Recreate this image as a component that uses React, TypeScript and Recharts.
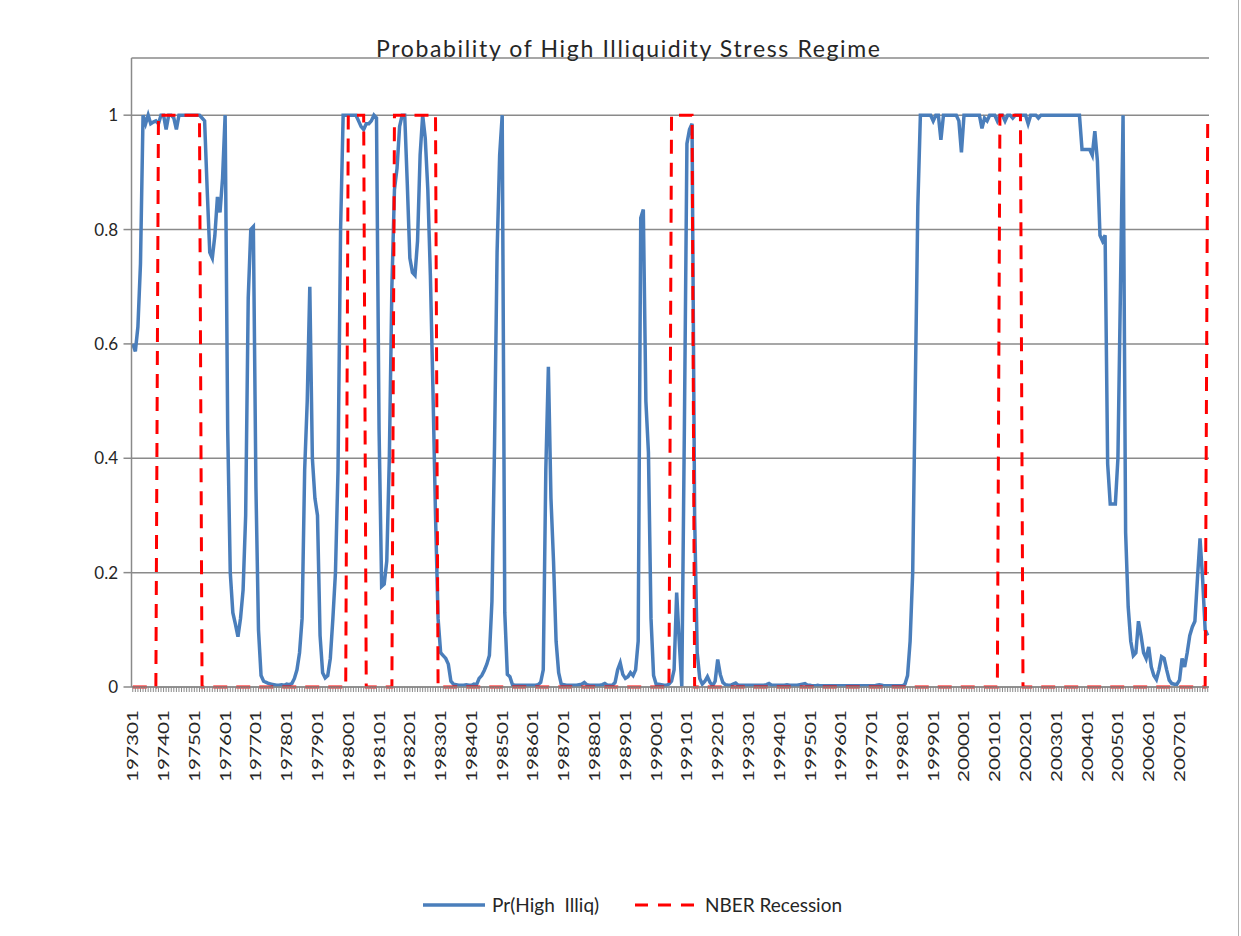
import React from 'react';
import { LineChart, Line, XAxis, YAxis, CartesianGrid } from 'recharts';

// monthly categories 197301 .. 200712
const months: string[] = [];
for (let y = 1973; y <= 2007; y++) {
  for (let m = 1; m <= 12; m++) months.push(`${y}${m < 10 ? '0' : ''}${m}`);
}

// Pr(High Illiq), one row per year
const highIlliq: number[] = [
  0.6, 0.587, 0.63, 0.74, 1.0, 0.985, 1.0, 0.985, 0.988, 0.99, 0.985, 1.0, // 1973
  1.0, 0.975, 1.0, 1.0, 0.995, 0.975, 1.0, 1.0, 1.0, 1.0, 1.0, 1.0, // 1974
  1.0, 1.0, 1.0, 0.995, 0.99, 0.87, 0.76, 0.75, 0.79, 0.857, 0.83, 0.89, // 1975
  1.0, 0.45, 0.2, 0.13, 0.11, 0.088, 0.12, 0.17, 0.3, 0.68, 0.8, 0.805, // 1976
  0.35, 0.1, 0.02, 0.01, 0.008, 0.006, 0.005, 0.004, 0.003, 0.003, 0.004, 0.003, // 1977
  0.005, 0.004, 0.006, 0.015, 0.03, 0.06, 0.12, 0.38, 0.5, 0.7, 0.4, 0.33, // 1978
  0.3, 0.09, 0.025, 0.016, 0.02, 0.05, 0.12, 0.2, 0.38, 0.8, 1.0, 1.0, // 1979
  1.0, 1.0, 1.0, 1.0, 0.99, 0.98, 0.975, 0.985, 0.985, 0.99, 1.0, 0.995, // 1980
  0.45, 0.176, 0.18, 0.22, 0.4, 0.7, 0.87, 0.907, 0.98, 1.0, 1.0, 0.88, // 1981
  0.75, 0.725, 0.72, 0.78, 0.93, 1.0, 0.96, 0.87, 0.72, 0.52, 0.3, 0.12, // 1982
  0.06, 0.055, 0.05, 0.04, 0.01, 0.005, 0.004, 0.003, 0.003, 0.003, 0.004, 0.003, // 1983
  0.003, 0.005, 0.004, 0.015, 0.02, 0.029, 0.04, 0.055, 0.15, 0.42, 0.76, 0.93, // 1984
  1.0, 0.13, 0.022, 0.018, 0.004, 0.003, 0.003, 0.003, 0.003, 0.003, 0.003, 0.003, // 1985
  0.003, 0.003, 0.004, 0.008, 0.03, 0.38, 0.56, 0.33, 0.22, 0.08, 0.025, 0.005, // 1986
  0.004, 0.003, 0.003, 0.003, 0.003, 0.003, 0.004, 0.005, 0.008, 0.004, 0.003, 0.003, // 1987
  0.003, 0.003, 0.003, 0.004, 0.006, 0.003, 0.003, 0.003, 0.008, 0.03, 0.042, 0.022, // 1988
  0.015, 0.018, 0.025, 0.02, 0.03, 0.08, 0.82, 0.835, 0.5, 0.41, 0.12, 0.02, // 1989
  0.005, 0.005, 0.004, 0.003, 0.003, 0.005, 0.01, 0.03, 0.165, 0.08, 0.0, 0.45, // 1990
  0.95, 0.975, 0.985, 0.3, 0.06, 0.015, 0.005, 0.01, 0.018, 0.008, 0.002, 0.01, // 1991
  0.048, 0.022, 0.008, 0.004, 0.003, 0.003, 0.005, 0.007, 0.003, 0.003, 0.003, 0.003, // 1992
  0.003, 0.003, 0.003, 0.003, 0.003, 0.003, 0.003, 0.004, 0.006, 0.003, 0.003, 0.003, // 1993
  0.003, 0.003, 0.003, 0.004, 0.003, 0.003, 0.003, 0.003, 0.004, 0.005, 0.006, 0.003, // 1994
  0.003, 0.002, 0.002, 0.003, 0.002, 0.002, 0.002, 0.002, 0.002, 0.002, 0.002, 0.002, // 1995
  0.002, 0.002, 0.002, 0.002, 0.002, 0.002, 0.002, 0.002, 0.002, 0.002, 0.002, 0.002, // 1996
  0.002, 0.002, 0.003, 0.004, 0.003, 0.002, 0.002, 0.002, 0.002, 0.002, 0.002, 0.002, // 1997
  0.002, 0.005, 0.02, 0.08, 0.2, 0.52, 0.84, 1.0, 1.0, 1.0, 1.0, 1.0, // 1998
  0.99, 1.0, 1.0, 0.957, 1.0, 1.0, 1.0, 1.0, 1.0, 1.0, 0.99, 0.935, // 1999
  1.0, 1.0, 1.0, 1.0, 1.0, 1.0, 1.0, 0.977, 0.995, 0.99, 1.0, 1.0, // 2000
  1.0, 0.99, 1.0, 1.0, 0.99, 1.0, 1.0, 0.995, 1.0, 1.0, 1.0, 1.0, // 2001
  1.0, 0.985, 1.0, 1.0, 1.0, 0.995, 1.0, 1.0, 1.0, 1.0, 1.0, 1.0, // 2002
  1.0, 1.0, 1.0, 1.0, 1.0, 1.0, 1.0, 1.0, 1.0, 1.0, 0.94, 0.94, // 2003
  0.94, 0.94, 0.93, 0.972, 0.92, 0.79, 0.78, 0.79, 0.39, 0.32, 0.32, 0.32, // 2004
  0.4, 0.7, 1.0, 0.27, 0.14, 0.08, 0.055, 0.06, 0.115, 0.09, 0.06, 0.05, // 2005
  0.07, 0.035, 0.02, 0.013, 0.03, 0.053, 0.05, 0.03, 0.012, 0.006, 0.005, 0.005, // 2006
  0.012, 0.05, 0.035, 0.06, 0.09, 0.105, 0.115, 0.19, 0.26, 0.19, 0.1, 0.09, // 2007
];

// NBER recession indicator, one row per year
const nberRecession: number[] = [
  0, 0, 0, 0, 0, 0, 0, 0, 0, 0, 1, 1, // 1973
  1, 1, 1, 1, 1, 1, 1, 1, 1, 1, 1, 1, // 1974
  1, 1, 1, 0, 0, 0, 0, 0, 0, 0, 0, 0, // 1975
  0, 0, 0, 0, 0, 0, 0, 0, 0, 0, 0, 0, // 1976
  0, 0, 0, 0, 0, 0, 0, 0, 0, 0, 0, 0, // 1977
  0, 0, 0, 0, 0, 0, 0, 0, 0, 0, 0, 0, // 1978
  0, 0, 0, 0, 0, 0, 0, 0, 0, 0, 0, 0, // 1979
  1, 1, 1, 1, 1, 1, 1, 0, 0, 0, 0, 0, // 1980
  0, 0, 0, 0, 0, 0, 1, 1, 1, 1, 1, 1, // 1981
  1, 1, 1, 1, 1, 1, 1, 1, 1, 1, 1, 0, // 1982
  0, 0, 0, 0, 0, 0, 0, 0, 0, 0, 0, 0, // 1983
  0, 0, 0, 0, 0, 0, 0, 0, 0, 0, 0, 0, // 1984
  0, 0, 0, 0, 0, 0, 0, 0, 0, 0, 0, 0, // 1985
  0, 0, 0, 0, 0, 0, 0, 0, 0, 0, 0, 0, // 1986
  0, 0, 0, 0, 0, 0, 0, 0, 0, 0, 0, 0, // 1987
  0, 0, 0, 0, 0, 0, 0, 0, 0, 0, 0, 0, // 1988
  0, 0, 0, 0, 0, 0, 0, 0, 0, 0, 0, 0, // 1989
  0, 0, 0, 0, 0, 0, 1, 1, 1, 1, 1, 1, // 1990
  1, 1, 1, 0, 0, 0, 0, 0, 0, 0, 0, 0, // 1991
  0, 0, 0, 0, 0, 0, 0, 0, 0, 0, 0, 0, // 1992
  0, 0, 0, 0, 0, 0, 0, 0, 0, 0, 0, 0, // 1993
  0, 0, 0, 0, 0, 0, 0, 0, 0, 0, 0, 0, // 1994
  0, 0, 0, 0, 0, 0, 0, 0, 0, 0, 0, 0, // 1995
  0, 0, 0, 0, 0, 0, 0, 0, 0, 0, 0, 0, // 1996
  0, 0, 0, 0, 0, 0, 0, 0, 0, 0, 0, 0, // 1997
  0, 0, 0, 0, 0, 0, 0, 0, 0, 0, 0, 0, // 1998
  0, 0, 0, 0, 0, 0, 0, 0, 0, 0, 0, 0, // 1999
  0, 0, 0, 0, 0, 0, 0, 0, 0, 0, 0, 0, // 2000
  0, 0, 1, 1, 1, 1, 1, 1, 1, 1, 1, 0, // 2001
  0, 0, 0, 0, 0, 0, 0, 0, 0, 0, 0, 0, // 2002
  0, 0, 0, 0, 0, 0, 0, 0, 0, 0, 0, 0, // 2003
  0, 0, 0, 0, 0, 0, 0, 0, 0, 0, 0, 0, // 2004
  0, 0, 0, 0, 0, 0, 0, 0, 0, 0, 0, 0, // 2005
  0, 0, 0, 0, 0, 0, 0, 0, 0, 0, 0, 0, // 2006
  0, 0, 0, 0, 0, 0, 0, 0, 0, 0, 0, 1, // 2007
];

const yTicks = [0, 0.2, 0.4, 0.6, 0.8, 1];

const data = months.map((m, i) => ({ month: m, illiq: highIlliq[i], nber: nberRecession[i] }));

const W = 1241;
const H = 936;
const FONT = 'Lato, "Open Sans", sans-serif';
const GRID = '#8a8a8a';
const BLUE = '#4A7EBB';
const RED = '#FF0000';
const TEXT = '#262626';

const XTick = (props: any) => {
  const { x, payload } = props;
  const label: string = payload.value;
  if (!label.endsWith('01')) return <g />;
  return (
    <text
      transform={`translate(${x + 5.5}, 710) rotate(-90)`}
      textAnchor="end"
      fontFamily={FONT}
      fontSize={15}
      fill={TEXT}
      textLength={72}
      lengthAdjust="spacingAndGlyphs"
    >
      {label}
    </text>
  );
};

const YTick = (props: any) => {
  const { y, payload } = props;
  return (
    <text x={118} y={y + 6} textAnchor="end" fontFamily={FONT} fontSize={17} fill={TEXT}>
      {String(payload.value)}
    </text>
  );
};

export default function App() {
  return (
    <div style={{ position: 'absolute', left: 0, top: 0, width: W, height: H, background: '#fff' }}>
      <LineChart width={W} height={H} data={data} margin={{ top: 58, right: 32, bottom: 149, left: 0.5 }}>
        <CartesianGrid vertical={false} stroke={GRID} strokeWidth={1.5} />
        <XAxis
          dataKey="month"
          interval={0}
          height={100}
          padding={{ left: 1.28, right: 1.28 }}
          tick={<XTick />}
          tickSize={5}
          tickLine={{ stroke: GRID, strokeWidth: 1 }}
          axisLine={{ stroke: GRID, strokeWidth: 1.5 }}
        />
        <YAxis
          width={131}
          domain={[0, 1.1]}
          ticks={yTicks}
          tick={<YTick />}
          tickSize={8}
          tickLine={{ stroke: GRID, strokeWidth: 1.5 }}
          axisLine={{ stroke: GRID, strokeWidth: 1.5 }}
        />
        <Line type="linear" dataKey="illiq" stroke={BLUE} strokeWidth={3.5} dot={false} isAnimationActive={false} />
        <Line
          type="linear"
          dataKey="nber"
          stroke={RED}
          strokeWidth={3}
          strokeDasharray="14 9"
          dot={false}
          isAnimationActive={false}
        />
      </LineChart>
      <svg width={W} height={H} style={{ position: 'absolute', left: 0, top: 0, pointerEvents: 'none' }}>
        <line x1={1238.5} x2={1238.5} y1={0} y2={H} stroke="#b0b0b0" strokeWidth={1} />
        <text x={376} y={57} fontFamily={FONT} fontSize={23} fill={TEXT} textLength={504} lengthAdjust="spacing">
          Probability of High Illiquidity Stress Regime
        </text>
        <line x1={423} x2={485} y1={905} y2={905} stroke={BLUE} strokeWidth={3.5} />
        <text x={492} y={912} fontFamily={FONT} fontSize={19} fill={TEXT} textLength={107} lengthAdjust="spacing" style={{ whiteSpace: 'pre' }}>
          {'Pr(High  Illiq)'}
        </text>
        <line x1={635} x2={698} y1={905} y2={905} stroke={RED} strokeWidth={3} strokeDasharray="13 10" />
        <text x={705} y={912} fontFamily={FONT} fontSize={19} fill={TEXT} textLength={137} lengthAdjust="spacing">
          NBER Recession
        </text>
      </svg>
    </div>
  );
}
